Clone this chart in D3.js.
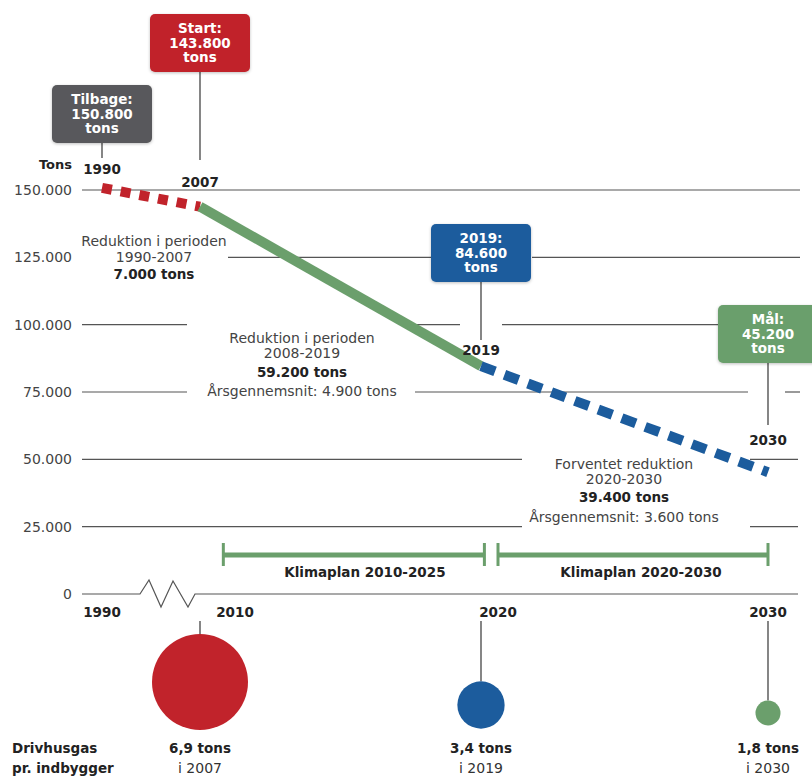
<!DOCTYPE html>
<html>
<head>
<meta charset="utf-8">
<script src="https://cdn.jsdelivr.net/npm/d3@7"></script>
<style>
  html, body { margin: 0; padding: 0; background: #fff; }
  svg { display: block; }
  text { font-family: "DejaVu Sans", Inter, sans-serif; fill: #333; }
</style>
</head>
<body>
<svg id="chart" width="812" height="776"></svg>
<script>
// ---------------- DATA ----------------
const years = [1990, 2007, 2019, 2030];
const emissions = [150800, 143800, 84600, 45200];
const yTicks = [0, 25000, 50000, 75000, 100000, 125000, 150000];
const axisYears = [1990, 2010, 2020, 2030];
const calloutTitles = ["Tilbage:", "Start:", "2019:", "Mål:"];
const pointYearLabels = ["1990", "2007", "2019", "2030"];
const plans = ["Klimaplan 2010-2025", "Klimaplan 2020-2030"];
const planStart = [2009, 2020];
const planEnd = [2019.2, 2030];
const perCapitaYears = [2007, 2019, 2030];
const perCapitaValues = [6.9, 3.4, 1.8];
const perCapitaLabels = ["6,9 tons", "3,4 tons", "1,8 tons"];
const perCapitaSub = ["i 2007", "i 2019", "i 2030"];
const periodNotes = [
  { lines: ["Reduktion i perioden", "1990-2007", "7.000 tons"], bold: [2] },
  { lines: ["Reduktion i perioden", "2008-2019", "59.200 tons", "Årsgennemsnit: 4.900 tons"], bold: [2] },
  { lines: ["Forventet reduktion", "2020-2030", "39.400 tons", "Årsgennemsnit: 3.600 tons"], bold: [2] }
];

// ---------------- STYLE / LAYOUT ----------------
const RED = "#c1232b", GREEN = "#6b9f6c", BLUE = "#1c5c9d", GRAY = "#58595b";
const calloutColors = [GRAY, RED, BLUE, GREEN];
const segColors = [RED, GREEN, BLUE];
const segDash = ["10,9", null, "15,10"];
const FS = 14, FB = 13.5;
const locale = d3.formatLocale({ decimal: ",", thousands: ".", grouping: [3], currency: ["", ""] });
const fmt = locale.format(",d");

const svg = d3.select("#chart");
// broken / hand-drawn time axis: piecewise linear scale
const x = d3.scaleLinear()
  .domain([1990, 2007, 2010, 2019, 2020, 2030])
  .range([102, 200, 235, 481, 498, 768]);
const y = d3.scaleLinear().domain([0, 150000]).range([594, 190]);
const r = d3.scaleLinear().domain([0, 6.9]).range([0, 48]);

// gridline segments (gaps leave room for annotations)
const gridSegs = {
  150000: [[82, 800]],
  125000: [[228, 432], [532, 800]],
  100000: [[82, 187], [417, 460], [502, 718]],
  75000: [[82, 187], [415, 748], [785, 800]],
  50000: [[82, 522], [750, 798]],
  25000: [[82, 522], [750, 798]],
  0: []
};
const grid = svg.append("g");
yTicks.forEach(t => {
  gridSegs[t].forEach(s => {
    grid.append("line").attr("x1", s[0]).attr("x2", s[1])
      .attr("y1", y(t)).attr("y2", y(t))
      .attr("stroke", "#555").attr("stroke-width", 1.2);
  });
});
// zero line with break zigzag
const y0 = y(0);
grid.append("path")
  .attr("d", `M82,${y0} L140,${y0} L149,${y0 - 14} L161,${y0 + 13} L173,${y0 - 13} L188,${y0 + 13} L195,${y0} L798,${y0}`)
  .attr("fill", "none").attr("stroke", "#555").attr("stroke-width", 1.2);

// y axis labels
svg.append("g").selectAll("text").data(yTicks).join("text")
  .attr("x", 72).attr("y", d => y(d)).attr("dy", "0.35em")
  .attr("text-anchor", "end").attr("font-size", FS).style("fill", "#444")
  .text(d => fmt(d));
svg.append("text").attr("x", 72).attr("y", 169).attr("text-anchor", "end")
  .attr("font-size", 13).attr("font-weight", 700).style("fill", "#222").text("Tons");

// the emission line, three segments
const line = d3.line().x(d => x(d[0])).y(d => y(d[1]));
for (let i = 0; i < years.length - 1; i++) {
  const seg = [[years[i], emissions[i]], [years[i + 1], emissions[i + 1]]];
  svg.append("path").datum(seg).attr("d", line)
    .attr("fill", "none").attr("stroke", segColors[i])
    .attr("stroke-width", 10)
    .attr("stroke-dasharray", segDash[i]);
}

// callout boxes with stems
const boxLayout = [
  { top: 85, stemEnd: 158, w: 100 },
  { top: 14, stemEnd: 160, w: 100 },
  { top: 224, stemEnd: 340, w: 100 },
  { top: 305, stemEnd: 425, w: 100 }
];
const yearLabelY = [174, 187, 355, 445];
const defs = svg.append("defs");
const f = defs.append("filter").attr("id", "sh").attr("x", "-20%").attr("y", "-20%").attr("width", "140%").attr("height", "140%");
f.append("feDropShadow").attr("dx", 0).attr("dy", 1).attr("stdDeviation", 1.5).attr("flood-opacity", 0.25);
years.forEach((yr, i) => {
  const cx = x(yr), L = boxLayout[i], h = 58;
  svg.append("line").attr("x1", cx).attr("x2", cx)
    .attr("y1", L.top + h).attr("y2", L.stemEnd)
    .attr("stroke", "#444").attr("stroke-width", 1.3);
  svg.append("rect").attr("x", cx - L.w / 2).attr("y", L.top)
    .attr("width", L.w).attr("height", h).attr("rx", 5)
    .attr("fill", calloutColors[i]).attr("filter", "url(#sh)");
  const lines = [calloutTitles[i], fmt(emissions[i]), "tons"];
  lines.forEach((t, j) => {
    svg.append("text").attr("x", cx).attr("y", L.top + 19 + j * 14.5)
      .attr("text-anchor", "middle").attr("font-size", FB).attr("font-weight", 700)
      .style("fill", "#fff").text(t);
  });
  svg.append("text").attr("x", cx).attr("y", yearLabelY[i])
    .attr("text-anchor", "middle").attr("font-size", FB).attr("font-weight", 700)
    .style("fill", "#222").text(pointYearLabels[i]);
});

// period notes
const noteLayout = [
  { cx: 154, top: 246, lh: [0, 16, 33] },
  { cx: 302, top: 343, lh: [0, 15, 34, 53] },
  { cx: 624, top: 469, lh: [0, 15, 33, 53] }
];
periodNotes.forEach((n, i) => {
  const L = noteLayout[i];
  n.lines.forEach((t, j) => {
    const b = n.bold.includes(j);
    svg.append("text").attr("x", L.cx).attr("y", L.top + L.lh[j])
      .attr("text-anchor", "middle").attr("font-size", b ? FB : FS)
      .attr("font-weight", b ? 700 : 400)
      .style("fill", b ? "#222" : "#444")
      .text(t);
  });
});

// klimaplan brackets
plans.forEach((p, i) => {
  const x1 = x(planStart[i]), x2 = x(planEnd[i]);
  const g = svg.append("g").attr("stroke", GREEN);
  g.append("line").attr("x1", x1).attr("x2", x2).attr("y1", 555).attr("y2", 555).attr("stroke-width", 5);
  g.append("line").attr("x1", x1).attr("x2", x1).attr("y1", 543).attr("y2", 566).attr("stroke-width", 3);
  g.append("line").attr("x1", x2).attr("x2", x2).attr("y1", 543).attr("y2", 566).attr("stroke-width", 3);
  svg.append("text").attr("x", (x1 + x2) / 2 + (i === 0 ? 11 : 8)).attr("y", 577)
    .attr("text-anchor", "middle").attr("font-size", FB).attr("font-weight", 700)
    .style("fill", "#222").text(p);
});

// bottom axis labels
svg.append("g").selectAll("text").data(axisYears).join("text")
  .attr("x", d => x(d)).attr("y", 617)
  .attr("text-anchor", "middle").attr("font-size", FB).attr("font-weight", 700)
  .style("fill", "#222").text(d => d);

// per-capita circles
const circleY = [682, 705, 713];
perCapitaYears.forEach((yr, i) => {
  const cx = x(yr);
  svg.append("line").attr("x1", cx).attr("x2", cx)
    .attr("y1", 621).attr("y2", circleY[i] - r(perCapitaValues[i]))
    .attr("stroke", "#444").attr("stroke-width", 1.3);
  svg.append("circle").attr("cx", cx).attr("cy", circleY[i])
    .attr("r", r(perCapitaValues[i])).attr("fill", calloutColors[i + 1]);
  svg.append("text").attr("x", cx).attr("y", 753).attr("text-anchor", "middle")
    .attr("font-size", FB).attr("font-weight", 700).style("fill", "#222").text(perCapitaLabels[i]);
  svg.append("text").attr("x", cx).attr("y", 773).attr("text-anchor", "middle")
    .attr("font-size", FS).style("fill", "#333").text(perCapitaSub[i]);
});
svg.append("text").attr("x", 12).attr("y", 753).attr("font-size", FB)
  .attr("font-weight", 700).style("fill", "#222").text("Drivhusgas");
svg.append("text").attr("x", 12).attr("y", 773).attr("font-size", FB)
  .attr("font-weight", 700).style("fill", "#222").text("pr. indbygger");
</script>
</body>
</html>
